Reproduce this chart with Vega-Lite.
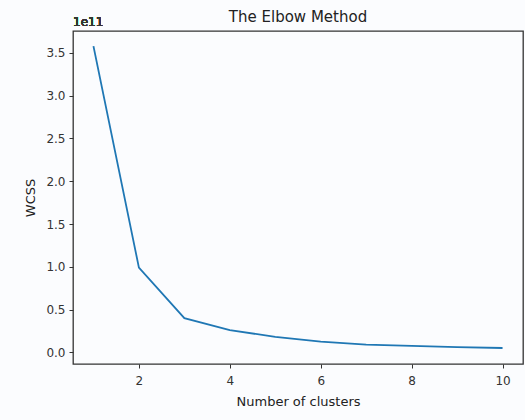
{
  "$schema": "https://vega.github.io/schema/vega-lite/v6.json",
  "width": 450,
  "height": 333,
  "autosize": {"type": "none"},
  "padding": {"left": 73, "top": 31, "right": 2, "bottom": 56},
  "background": "#fbfcfe",
  "title": {"text": "The Elbow Method", "font": "DejaVu Sans", "fontSize": 15, "fontWeight": "normal", "color": "#222222", "offset": -9},
  "config": {
    "view": {"stroke": "#333333", "strokeWidth": 1.3, "fill": "#fbfcfe"},
    "axis": {"labelFont": "DejaVu Sans", "titleFont": "DejaVu Sans", "labelFontSize": 12, "titleFontSize": 13, "titleFontWeight": "normal", "labelColor": "#333333", "titleColor": "#222222", "tickColor": "#333333", "domain": false, "grid": false, "tickSize": 4}
  },
  "data": {"values": [
    {"k": 1, "wcss": 358000000000},
    {"k": 2, "wcss": 99000000000},
    {"k": 3, "wcss": 40000000000},
    {"k": 4, "wcss": 26000000000},
    {"k": 5, "wcss": 18000000000},
    {"k": 6, "wcss": 12500000000},
    {"k": 7, "wcss": 9000000000},
    {"k": 8, "wcss": 7500000000},
    {"k": 9, "wcss": 6000000000},
    {"k": 10, "wcss": 5000000000}
  ]},
  "layer": [
    {
      "mark": {"type": "line", "color": "#1f77b4", "strokeWidth": 1.8},
      "encoding": {
        "x": {"field": "k", "type": "quantitative", "scale": {"domain": [0.55, 10.45], "nice": false, "zero": false}, "axis": {"values": [2, 4, 6, 8, 10], "title": "Number of clusters", "titlePadding": 9, "labelPadding": 7}},
        "y": {"field": "wcss", "type": "quantitative", "scale": {"domain": [-13700000000, 375700000000], "nice": false, "zero": false}, "axis": {"values": [0, 50000000000, 100000000000, 150000000000, 200000000000, 250000000000, 300000000000, 350000000000], "labelExpr": "format(datum.value / 1e11, '.1f')", "title": "WCSS", "titlePadding": 8, "labelPadding": 4}}
      }
    },
    {
      "mark": {"type": "text", "text": "1e11", "align": "left", "baseline": "bottom", "dy": -2, "font": "DejaVu Sans", "fontSize": 12, "fontWeight": "normal", "color": "#333333"},
      "encoding": {
        "x": {"datum": 0.55, "type": "quantitative"},
        "y": {"datum": 375700000000, "type": "quantitative"}
      }
    }
  ]
}
